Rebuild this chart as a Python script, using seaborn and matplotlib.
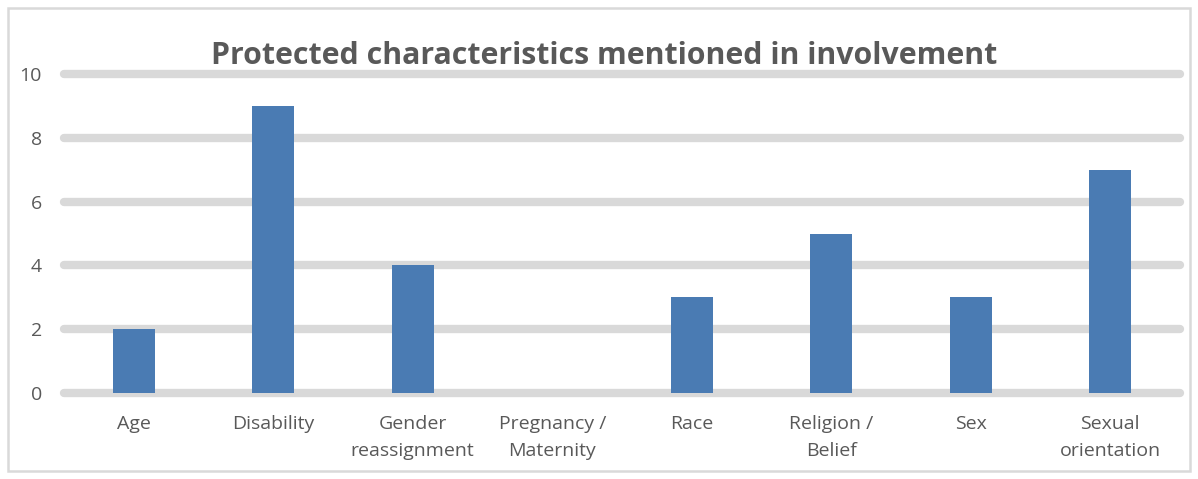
import matplotlib
matplotlib.use("Agg")
import matplotlib.pyplot as plt
import seaborn as sns
import pandas as pd
from matplotlib.patches import Rectangle

categories = ["Age", "Disability", "Gender\nreassignment", "Pregnancy /\nMaternity",
              "Race", "Religion /\nBelief", "Sex", "Sexual\norientation"]
counts = [2, 9, 4, 0, 3, 5, 3, 7]
y_ticks = [0, 2, 4, 6, 8, 10]
title = "Protected characteristics mentioned in involvement"

sns.set_theme(style="white")
plt.rcParams["font.family"] = ["Open Sans", "DejaVu Sans"]

df = pd.DataFrame({"category": categories, "count": counts})

fig = plt.figure(figsize=(11.98, 4.79), dpi=100)
ax = fig.add_axes([0.0534, 0.1795, 0.9316, 0.666])

sns.barplot(data=df, x="category", y="count", color="#4A7BB3", width=0.30,
            saturation=1, linewidth=0, ax=ax, zorder=3)

ax.set_ylim(0, 10)
ax.set_yticks(y_ticks)
ax.set_xlim(-0.5, len(categories) - 0.5)
ax.set_xlabel("")
ax.set_ylabel("")
ax.yaxis.grid(True, color="#D9D9D9", linewidth=6.0, solid_capstyle="round")
for gl in ax.get_ygridlines():
    gl.set_clip_on(False)
ax.set_axisbelow(True)
for s in ax.spines.values():
    s.set_visible(False)
ax.tick_params(axis="both", length=0, labelsize=14, labelcolor="#595959")
ax.tick_params(axis="y", pad=16)
ax.tick_params(axis="x", pad=16)
for lbl in ax.get_xticklabels():
    lbl.set_linespacing(1.6)

fig.text(0.504, 0.884, title, ha="center", va="center", fontsize=21.8,
         fontweight="bold", color="#595959")

fig.patches.append(Rectangle((0.007, 0.017), 0.986, 0.966, transform=fig.transFigure,
                             fill=False, edgecolor="#D9D9D9", linewidth=1.8))

fig.savefig("out.png", dpi=100)
